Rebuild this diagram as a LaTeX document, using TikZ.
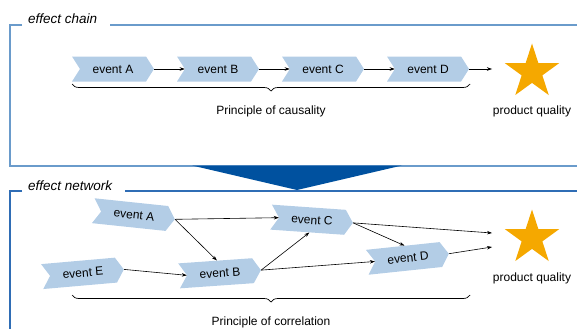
\documentclass[tikz,border=0pt]{standalone}
\usepackage{fontspec}
\setmainfont{Liberation Sans}
\usetikzlibrary{shapes.symbols,shapes.geometric,decorations.pathreplacing,arrows.meta}
\definecolor{evfill}{HTML}{B3CDE6}
\definecolor{boxA}{HTML}{6A9BCB}
\definecolor{boxB}{HTML}{2F6DB5}
\definecolor{funnel}{HTML}{00519F}
\definecolor{starc}{HTML}{F5A800}
\begin{document}
\begin{tikzpicture}[x=1pt,y=-1pt,
  evbox/.style={signal, signal to=east, signal from=west, signal pointer angle=115,
    fill=evfill, draw=none, minimum width=82pt, minimum height=25pt, inner sep=0pt,
    font=\fontsize{12}{14}\selectfont},
  qstar/.style={star, star points=5, star point ratio=2.618, fill=starc, draw=none,
    minimum size=57pt, inner sep=0pt},
  lbl/.style={font=\fontsize{12}{14}\selectfont, inner sep=0pt},
  ttl/.style={font=\fontsize{13.5}{15}\selectfont\itshape, inner sep=0pt, anchor=west},
  conn/.style={-{Stealth[length=5pt,width=3.5pt]}, line width=0.6pt},
  brc/.style={decorate, decoration={brace, mirror, amplitude=7pt}, line width=0.7pt}]
\useasboundingbox (0,0) rectangle (577,329);
% frames
\draw[boxA, line width=1.5pt] (22,25) -- (10,25) -- (10,166) -- (577,166);
\draw[boxA, line width=1.5pt] (110,25) -- (577,25);
\draw[boxB, line width=1.3pt] (22,191) -- (10,191) -- (10,329);
\draw[boxB, line width=1.3pt] (125,191) -- (577,191);
\fill[funnel] (192,165.5) -- (402,165.5) -- (297,190) -- cycle;
\node[ttl] (t1) at (28,19) {effect chain};
\node[ttl] (t2) at (28,186) {effect network};
% chain
\node[evbox] (a1) at (113,69) {event A};
\node[evbox] (b1) at (218,69) {event B};
\node[evbox] (c1) at (323,69) {event C};
\node[evbox] (d1) at (428,69) {event D};
\node[qstar] (s1) at (532,72) {};
\coordinate (q1) at (492,69);
\node[lbl] (pq1) at (532,111) {product quality};
\draw[conn] (a1.east) -- (b1.west);
\draw[conn] (b1.east) -- (c1.west);
\draw[conn] (c1.east) -- (d1.west);
\draw[conn] (d1.east) -- (q1);
\draw[brc] (72,84) -- (470,84);
\node[lbl] (pc) at (271,111) {Principle of causality};
% network
\node[evbox, rotate=-6] (a2) at (134,215) {event A};
\node[evbox, rotate=5] (e2) at (83,273) {event E};
\node[evbox, rotate=4] (b2) at (220,273) {event B};
\node[evbox, rotate=-4] (c2) at (312,220) {event C};
\node[evbox, rotate=6] (d2) at (408,258) {event D};
\node[qstar] (s2) at (532,238) {};
\coordinate (q2) at (492,233);
\coordinate (q3) at (492,247);
\node[lbl] (pq2) at (532,278) {product quality};
\draw[conn] (a2.east) -- (c2.west);
\draw[conn] (a2.east) -- (b2.100);
\draw[conn] (e2.east) -- (b2.west);
\draw[conn] (b2.east) -- (c2.262);
\draw[conn] (b2.east) -- (d2.west);
\draw[conn] (c2.east) -- (q2);
\draw[conn] (c2.east) -- (d2.100);
\draw[conn] (d2.east) -- (q3);
\draw[brc] (72,295) -- (470,295);
\node[lbl] (pr) at (271,322) {Principle of correlation};
\end{tikzpicture}
\end{document}
